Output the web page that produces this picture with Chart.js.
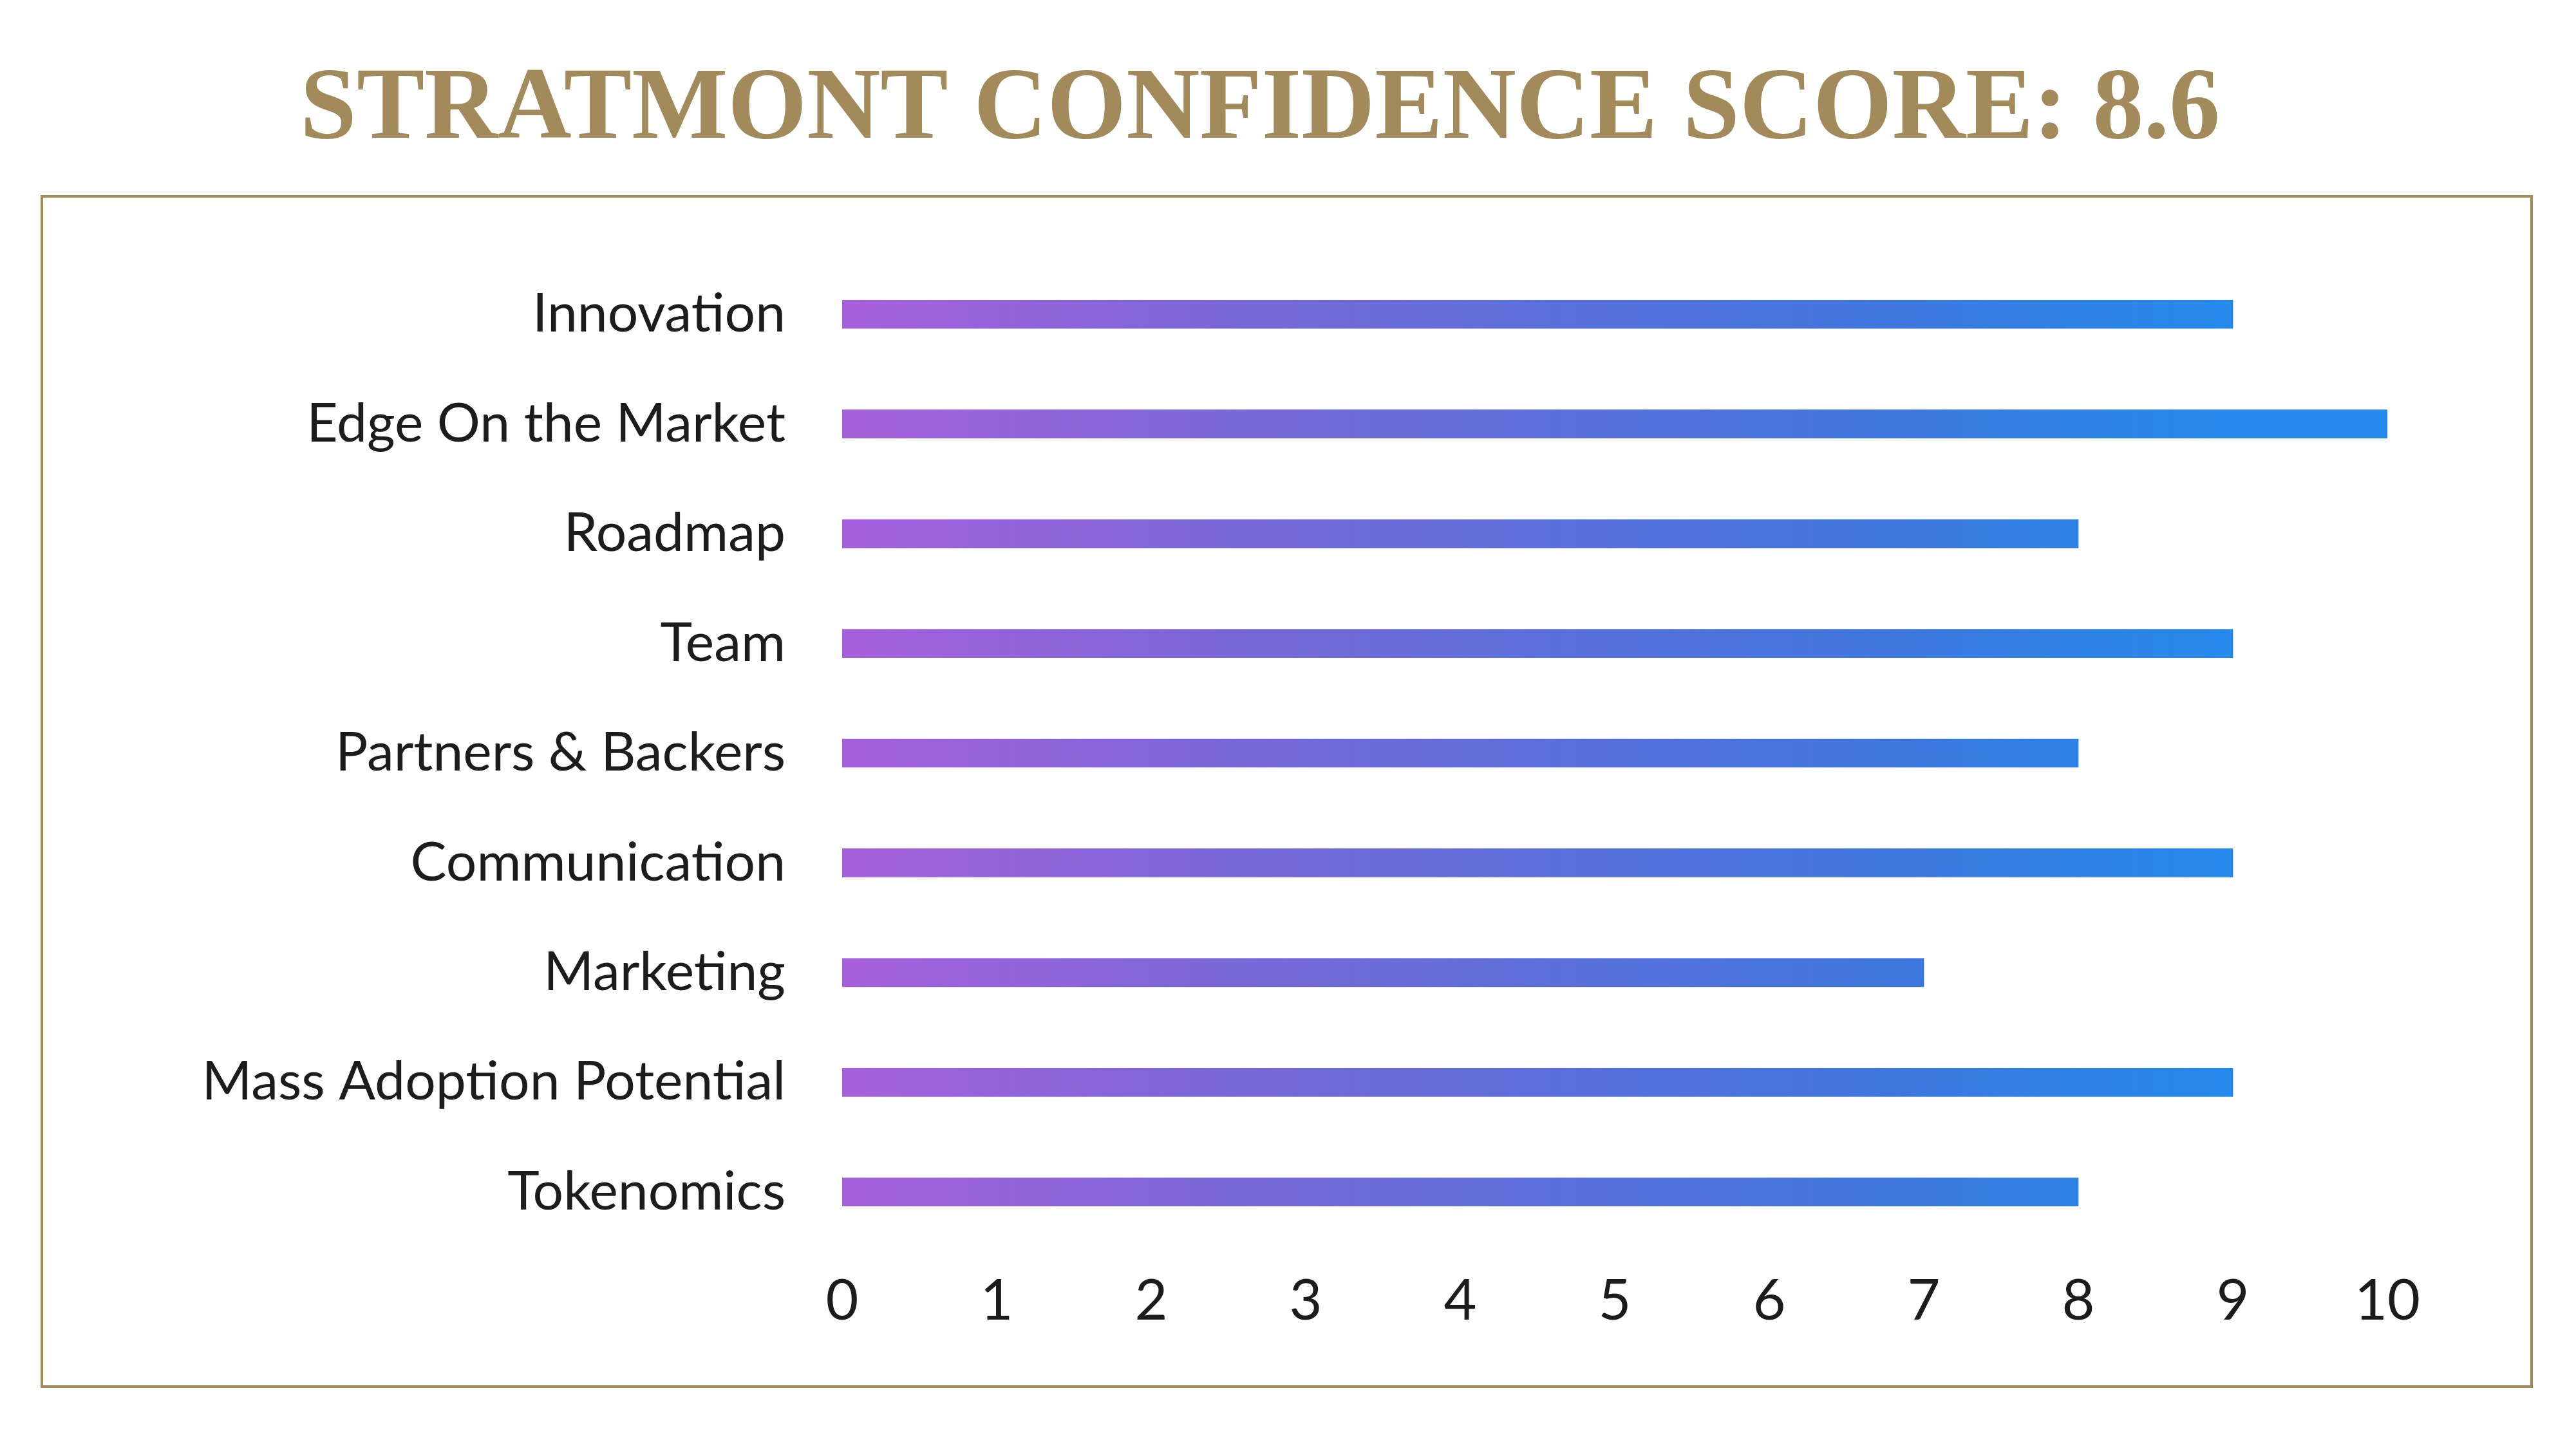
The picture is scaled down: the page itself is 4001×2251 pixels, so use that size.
<!DOCTYPE html>
<html>
<head>
<meta charset="utf-8">
<title>Stratmont Confidence Score</title>
<script src="https://cdn.jsdelivr.net/npm/chart.js@4/dist/chart.umd.min.js"></script>
<style>
    html, body { margin: 0; padding: 0; background: #ffffff; }
    #chart { display: block; }
</style>
</head>
<body>
<canvas id="chart" width="4001" height="2251"></canvas>
<script>
// categories shown on the y axis, top to bottom
let categories = [
    "Innovation",
    "Edge On the Market",
    "Roadmap",
    "Team",
    "Partners & Backers",
    "Communication",
    "Marketing",
    "Mass Adoption Potential",
    "Tokenomics"
];

// score for every category
let scores = [9, 10, 8, 9, 8, 9, 7, 9, 8];

// x axis tick values
let xTicks = [0, 1, 2, 3, 4, 5, 6, 7, 8, 9, 10];

let titleText = "STRATMONT CONFIDENCE SCORE: 8.6";

const gold = "#a38a5b";
const labelFont = "Lato";

// purple -> blue gradient, the same for every bar (runs from 0 to 9 on the x axis)
function barGradient(context) {
    let chart = context.chart;
    if (!chart.chartArea) {
        return "#7468d6";
    }
    let x0 = chart.scales.x.getPixelForValue(0);
    let x1 = chart.scales.x.getPixelForValue(9);
    let g = chart.ctx.createLinearGradient(x0, 0, x1, 0);
    g.addColorStop(0, "#a760dc");
    g.addColorStop(0.3, "#7568d6");
    g.addColorStop(0.57, "#5471dc");
    g.addColorStop(0.76, "#3d76dd");
    g.addColorStop(0.86, "#3280e4");
    g.addColorStop(1, "#2589eb");
    return g;
}

// gold frame around the plot
const framePlugin = {
    id: "frame",
    beforeDraw(chart) {
        let ctx = chart.ctx;
        ctx.save();
        ctx.fillStyle = "#ffffff";
        ctx.fillRect(0, 0, chart.width, chart.height);
        ctx.strokeStyle = gold;
        ctx.lineWidth = 4;
        ctx.strokeRect(65, 305, 3867, 1849);
        ctx.restore();
    }
};

const canvas = document.getElementById("chart");

let chart = new Chart(canvas, {
    type: "bar",
    data: {
        labels: categories,
        datasets: [{
            data: scores,
            backgroundColor: barGradient,
            borderWidth: 0,
            borderSkipped: false,
            barThickness: 44
        }]
    },
    options: {
        responsive: false,
        animation: false,
        indexAxis: "y",
        layout: {
            // left padding only shifts the centred title, the y axis width makes up the rest
            padding: { left: 206, right: 293, top: 0, bottom: 0 }
        },
        plugins: {
            legend: { display: false },
            tooltip: { enabled: false },
            title: {
                display: true,
                text: titleText,
                color: gold,
                font: { family: "Liberation Serif", size: 158, weight: "bold", lineHeight: 1 },
                padding: { top: 94, bottom: 151 }
            }
        },
        scales: {
            x: {
                type: "linear",
                min: 0,
                max: 10,
                afterBuildTicks: (scale) => {
                    scale.ticks = xTicks.map(v => ({ value: v }));
                },
                afterFit: (scale) => {
                    scale.height = 314;
                },
                grid: { display: false, drawTicks: false },
                border: { display: false },
                ticks: {
                    color: "#1c1c1c",
                    padding: 32,
                    font: { family: labelFont, size: 88 }
                }
            },
            y: {
                afterFit: (scale) => {
                    scale.width = 1308 - 206;
                },
                grid: { display: false, drawTicks: false },
                border: { display: false },
                ticks: {
                    color: "#1c1c1c",
                    padding: 88,
                    font: { family: labelFont, size: 84 }
                }
            }
        }
    },
    plugins: [framePlugin]
});
</script>
</body>
</html>
